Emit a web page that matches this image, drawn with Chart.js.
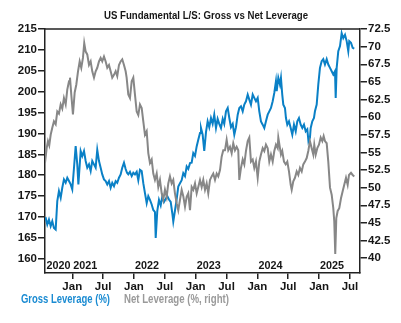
<!DOCTYPE html>
<html><head><meta charset="utf-8">
<script src="https://cdn.jsdelivr.net/npm/chart.js@4.4.1/dist/chart.umd.min.js"></script>
<style>html,body{margin:0;padding:0;background:#fff;}#wrap{width:401px;height:323px;}</style>
</head><body><div id="wrap"><canvas id="c" width="401" height="323"></canvas></div>
<script>
// ---- data (dates as decimal years) ----
const grossDates = [2020.566,2020.595,2020.622,2020.650,2020.676,2020.703,2020.731,2020.757,2020.784,2020.812,2020.838,2020.865,2020.893,2020.919,2020.947,2020.974,2021.000,2021.028,2021.055,2021.081,2021.099,2021.136,2021.162,2021.190,2021.217,2021.243,2021.271,2021.298,2021.324,2021.352,2021.379,2021.405,2021.433,2021.460,2021.486,2021.514,2021.541,2021.567,2021.595,2021.622,2021.648,2021.676,2021.703,2021.729,2021.757,2021.784,2021.810,2021.838,2021.865,2021.887,2021.908,2021.935,2021.963,2021.989,2022.016,2022.044,2022.070,2022.097,2022.125,2022.151,2022.178,2022.206,2022.232,2022.259,2022.287,2022.313,2022.340,2022.352,2022.378,2022.405,2022.433,2022.459,2022.486,2022.514,2022.540,2022.567,2022.595,2022.621,2022.637,2022.664,2022.692,2022.718,2022.746,2022.773,2022.799,2022.827,2022.854,2022.880,2022.908,2022.935,2022.961,2022.989,2023.016,2023.042,2023.070,2023.086,2023.113,2023.139,2023.167,2023.194,2023.220,2023.248,2023.275,2023.301,2023.329,2023.356,2023.382,2023.410,2023.438,2023.463,2023.491,2023.519,2023.545,2023.572,2023.600,2023.626,2023.653,2023.681,2023.707,2023.734,2023.762,2023.788,2023.815,2023.843,2023.869,2023.896,2023.924,2023.950,2023.977,2024.005,2024.031,2024.058,2024.086,2024.112,2024.139,2024.167,2024.193,2024.220,2024.248,2024.274,2024.301,2024.313,2024.339,2024.366,2024.382,2024.403,2024.420,2024.447,2024.463,2024.485,2024.512,2024.540,2024.566,2024.593,2024.621,2024.647,2024.674,2024.702,2024.728,2024.755,2024.783,2024.809,2024.828,2024.852,2024.864,2024.890,2024.917,2024.933,2024.961,2024.987,2025.014,2025.042,2025.068,2025.095,2025.123,2025.149,2025.177,2025.204,2025.230,2025.258,2025.269,2025.285,2025.311,2025.339,2025.366,2025.392,2025.420,2025.447,2025.473,2025.489,2025.517,2025.544,2025.570];
const grossValues = [170.0,168.2,169.4,167.8,169.0,167.4,167.0,173.8,176.2,174.6,177.0,179.0,178.2,179.4,178.6,177.8,176.6,181.8,187.0,182.6,177.8,185.8,184.6,185.8,183.4,181.8,182.6,181.0,183.4,182.6,181.8,186.1,183.4,181.8,180.2,179.0,178.6,177.8,178.6,177.0,178.2,177.4,178.6,178.2,179.4,180.2,181.8,183.0,181.5,180.6,180.2,180.8,179.8,180.6,180.2,180.8,178.8,181.3,181.0,178.1,175.7,173.3,175.0,174.1,173.0,171.7,171.2,165.0,171.5,174.1,172.8,174.9,173.6,174.3,175.0,174.2,173.6,170.9,168.9,171.5,174.3,177.3,178.1,178.8,180.5,179.8,182.1,181.5,182.9,183.0,185.3,184.6,186.9,188.5,190.1,191.3,189.7,185.8,190.3,192.9,191.5,193.7,192.3,194.5,191.3,193.5,192.3,191.3,193.5,192.3,195.3,196.1,193.7,191.5,192.3,189.7,191.5,194.5,196.1,196.5,195.3,196.9,197.7,199.3,198.1,196.9,199.3,198.5,197.7,198.5,195.3,192.9,192.1,191.3,192.9,194.5,195.3,196.1,197.7,199.7,202.5,200.1,203.3,201.7,203.3,199.3,196.9,196.1,193.7,192.1,192.9,191.3,189.7,192.1,190.5,192.9,193.7,192.1,191.3,192.1,190.5,191.0,188.1,189.0,191.3,192.9,193.7,195.3,196.9,201.7,205.7,207.3,207.8,206.5,207.8,206.5,205.7,204.9,204.1,204.9,198.5,205.7,209.7,210.9,214.0,212.8,213.6,212.1,209.7,212.1,211.7,210.5,210.3];

const netDates = [2020.558,2020.585,2020.606,2020.627,2020.650,2020.676,2020.703,2020.731,2020.757,2020.784,2020.812,2020.838,2020.865,2020.893,2020.919,2020.947,2020.963,2020.984,2021.011,2021.039,2021.065,2021.093,2021.120,2021.146,2021.173,2021.194,2021.217,2021.243,2021.271,2021.298,2021.324,2021.352,2021.379,2021.405,2021.433,2021.460,2021.486,2021.514,2021.541,2021.567,2021.595,2021.622,2021.648,2021.676,2021.703,2021.729,2021.757,2021.784,2021.810,2021.838,2021.865,2021.881,2021.908,2021.935,2021.963,2021.989,2022.016,2022.044,2022.070,2022.097,2022.125,2022.151,2022.178,2022.206,2022.232,2022.259,2022.287,2022.313,2022.340,2022.368,2022.394,2022.421,2022.449,2022.475,2022.502,2022.530,2022.556,2022.583,2022.611,2022.637,2022.664,2022.692,2022.718,2022.746,2022.773,2022.799,2022.827,2022.854,2022.880,2022.908,2022.935,2022.961,2022.989,2023.016,2023.042,2023.070,2023.097,2023.123,2023.151,2023.178,2023.204,2023.232,2023.259,2023.285,2023.313,2023.340,2023.366,2023.394,2023.421,2023.447,2023.475,2023.502,2023.528,2023.556,2023.583,2023.609,2023.637,2023.664,2023.690,2023.707,2023.734,2023.762,2023.788,2023.815,2023.843,2023.869,2023.896,2023.924,2023.950,2023.977,2024.005,2024.031,2024.058,2024.086,2024.112,2024.139,2024.167,2024.193,2024.220,2024.248,2024.274,2024.301,2024.329,2024.339,2024.366,2024.382,2024.403,2024.431,2024.459,2024.485,2024.512,2024.540,2024.556,2024.582,2024.609,2024.637,2024.663,2024.690,2024.718,2024.744,2024.771,2024.799,2024.825,2024.852,2024.880,2024.906,2024.922,2024.945,2024.971,2024.998,2025.026,2025.052,2025.074,2025.095,2025.123,2025.149,2025.177,2025.204,2025.230,2025.246,2025.262,2025.279,2025.301,2025.327,2025.355,2025.382,2025.408,2025.436,2025.463,2025.485,2025.517,2025.544,2025.570];
const netValues = [53.5,55.6,56.6,56.0,57.5,58.5,59.4,59.0,60.8,60.5,61.8,61.2,62.7,61.8,63.9,65.1,65.6,63.2,60.4,63.5,64.6,66.5,67.9,67.0,68.4,70.5,69.3,68.9,67.4,67.9,66.5,65.6,66.5,67.0,67.9,68.4,67.9,68.6,67.9,67.0,67.4,66.5,65.6,66.0,66.5,65.8,67.4,67.9,68.2,67.4,66.5,65.6,63.2,62.7,65.1,65.6,63.2,60.8,60.3,61.8,61.3,59.4,57.5,58.0,54.9,53.5,54.0,52.0,51.1,52.0,50.1,51.1,49.2,48.3,49.7,48.7,50.6,51.6,50.6,51.1,49.2,47.8,46.8,48.3,49.7,48.8,47.3,48.7,49.2,46.8,50.1,49.7,50.6,49.2,50.1,51.1,50.1,51.1,49.7,50.6,49.2,51.1,51.6,52.0,51.1,52.0,51.6,52.5,54.4,55.3,55.3,56.8,55.3,55.8,54.9,56.3,55.3,55.8,55.3,51.1,52.8,54.0,53.3,55.2,56.6,57.1,53.7,54.0,52.8,53.7,51.4,53.7,54.7,55.6,55.2,56.1,55.6,53.7,54.7,53.7,55.2,56.1,55.6,57.1,55.6,54.7,55.2,53.7,53.3,53.7,52.3,50.4,49.7,50.9,51.4,52.3,51.8,52.8,52.3,53.3,53.7,54.2,55.2,56.6,55.6,54.7,56.1,54.7,55.6,56.1,57.1,56.6,57.3,56.6,56.3,53.7,50.0,49.0,47.1,45.2,40.6,45.7,46.7,47.1,48.5,49.5,50.4,51.4,50.4,51.8,52.1,51.8,51.6];

const leftTicks = [160,165,170,175,180,185,190,195,200,205,210,215];
const rightTicks = [40,42.5,45,47.5,50,52.5,55,57.5,60,62.5,65,67.5,70,72.5];
const monthTicks = [2021,2021.5,2022,2022.5,2023,2023.5,2024,2024.5,2025,2025.5];
const yearLabels = [2020,2021,2022,2023,2024,2025];
const titleText = 'US Fundamental L/S: Gross vs Net Leverage';
const seriesNames = ['Gross Leverage (%)','Net Leverage (%, right)'];

// ---- styles ----
const FONT = "'Liberation Sans',Arial,sans-serif";
const INK = '#161616';
const AXIS = '#222';
const BLUE = '#0a80c6';
const GRAY = '#878787';
const BLUE_TXT = '#1a8bd2';
const GRAY_TXT = '#9a9a9a';
const tickFont = {family: FONT, size: 11.5, weight: 'bold'};

// draw text squeezed horizontally to a target width (condensed look)
function narrowText(ctx, text, x, y, targetW) {
  const w = ctx.measureText(text).width;
  const k = Math.min(1, targetW / w);
  ctx.save();
  ctx.translate(x, y);
  ctx.scale(k, 1);
  ctx.fillText(text, 0, 0);
  ctx.restore();
}

const decor = {
  id: 'decor',
  afterDraw(chart) {
    const {ctx, chartArea: a, scales} = chart;
    ctx.save();
    ctx.strokeStyle = AXIS; ctx.lineWidth = 1.5;
    ctx.beginPath(); ctx.moveTo(a.left, a.top); ctx.lineTo(a.right, a.top); ctx.stroke();
    ctx.textBaseline = 'middle';
    ctx.textAlign = 'left';
    ctx.fillStyle = INK; ctx.font = `bold 11.5px ${FONT}`;
    narrowText(ctx, titleText, 104, 15.5, 204);
    ctx.font = `bold 11.5px ${FONT}`;
    yearLabels.forEach(y => {
      const px = Math.max(a.left + 1.5, scales.x.getPixelForValue(y) + 1);
      narrowText(ctx, String(y), px, a.bottom - 7, 24);
    });
    ctx.font = `bold 12px ${FONT}`;
    ctx.fillStyle = BLUE_TXT; narrowText(ctx, seriesNames[0], 21, 300, 89);
    ctx.fillStyle = GRAY_TXT; narrowText(ctx, seriesNames[1], 124, 300, 105);
    ctx.restore();
  }
};

const fmt = v => (Math.abs(v % 1) < 1e-9 ? String(v) : v.toFixed(1));

new Chart(document.getElementById('c'), {
  type: 'line',
  data: {
    datasets: [
      {label: seriesNames[0], data: grossDates.map((d, i) => ({x: d, y: grossValues[i]})), yAxisID: 'y', borderColor: BLUE, borderWidth: 2, pointRadius: 0, tension: 0, order: 1},
      {label: seriesNames[1], data: netDates.map((d, i) => ({x: d, y: netValues[i]})), yAxisID: 'y2', borderColor: GRAY, borderWidth: 2, pointRadius: 0, tension: 0, order: 0}
    ]
  },
  options: {
    responsive: false, animation: false, devicePixelRatio: 1,
    layout: {padding: {top: 29, bottom: 30, left: 0, right: 0}},
    plugins: {legend: {display: false}, title: {display: false}, tooltip: {enabled: false}},
    scales: {
      x: {
        type: 'linear', min: 2020.558, max: 2025.663,
        afterBuildTicks: ax => { ax.ticks = monthTicks.map(v => ({value: v})); },
        afterFit: s => { s.height = 20; },
        ticks: {callback: v => (Math.abs(v - Math.round(v)) < 0.01 ? 'Jan' : 'Jul'), font: tickFont, color: INK, maxRotation: 0, autoSkip: false, padding: 1},
        grid: {drawOnChartArea: false, drawTicks: true, tickLength: 6, color: AXIS, lineWidth: 1.5},
        border: {display: true, color: AXIS, width: 1.5}
      },
      y: {
        type: 'linear', position: 'left', min: 156.6, max: 215,
        afterBuildTicks: ax => { ax.ticks = leftTicks.map(v => ({value: v})); },
        afterFit: s => { s.width = 45; },
        ticks: {callback: fmt, font: tickFont, color: INK, padding: 1},
        grid: {drawOnChartArea: false, drawTicks: true, tickLength: 7, color: AXIS, lineWidth: 1.5},
        border: {display: true, color: AXIS, width: 1.5}
      },
      y2: {
        type: 'linear', position: 'right', min: 37.9, max: 72.5,
        afterBuildTicks: ax => { ax.ticks = rightTicks.map(v => ({value: v})); },
        afterFit: s => { s.width = 41; },
        ticks: {callback: fmt, font: tickFont, color: INK, padding: 1},
        grid: {drawOnChartArea: false, drawTicks: true, tickLength: 7, color: AXIS, lineWidth: 1.5},
        border: {display: true, color: AXIS, width: 1.5}
      }
    }
  },
  plugins: [decor]
});
</script></body></html>
